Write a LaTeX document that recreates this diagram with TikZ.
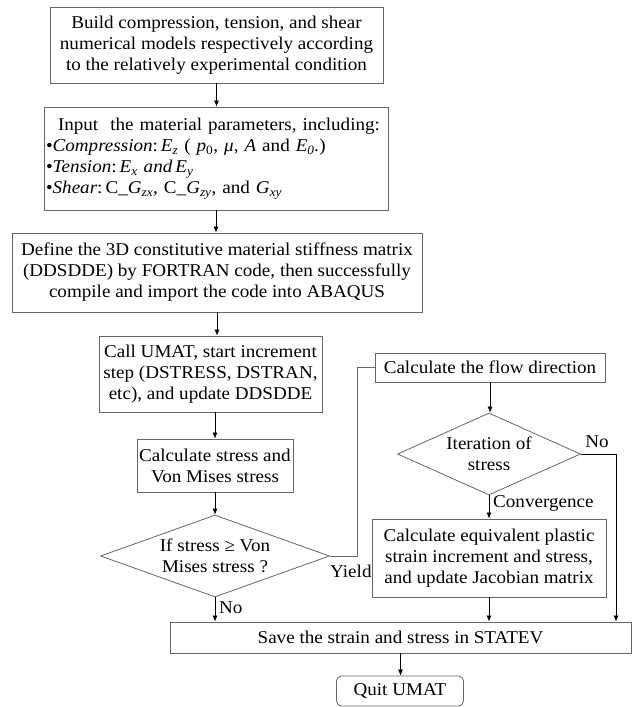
\documentclass[tikz,border=0pt]{standalone}
\usepackage{fontspec}
\setmainfont{Liberation Serif}[FakeStretch=1.06]
\usetikzlibrary{shapes.geometric,arrows.meta}
\tikzset{
  box/.style={draw=black!60, line width=0.8pt, fill=white, align=center, inner sep=0pt,
    font=\fontsize{18}{21}\selectfont},
  dia/.style={box, shape=diamond},
  lbl/.style={font=\fontsize{18}{21}\selectfont, inner sep=0pt},
  arr/.style={draw=black, line width=0.7pt, -{Latex[length=6pt,width=5pt]}},
  conn/.style={draw=black!60, line width=0.8pt}
}
\begin{document}
\begin{tikzpicture}[x=1pt,y=-1pt]
\useasboundingbox (0,0) rectangle (633,707);

\node[box, minimum width=333pt, minimum height=76pt] (b1) at (216.5,45)
  {Build compression, tension, and shear\\numerical models respectively according\\to the relatively experimental condition};

\node[box, minimum width=344pt, minimum height=103pt, text width=340pt, align=left] (b2) at (216,158.5)
  {\hspace*{12pt}Input~ the material parameters, including:\\
   •\textit{Compression}:\,\textit{E}\textsubscript{\textit{z}} ( \textit{p}\textsubscript{0}, \textit{μ}, \textit{A} and \textit{E}\textsubscript{\textit{0}}\textit{.})\\
   •\textit{Tension}:\,\textit{E}\textsubscript{\textit{x}} \textit{and}\,\textit{E}\textsubscript{\textit{y}}\\
   •\textit{Shear}:\,C\_\textit{G}\textsubscript{\textit{zx}}, C\_\textit{G}\textsubscript{\textit{zy}}, and \textit{G}\textsubscript{\textit{xy}}};

\node[box, minimum width=410pt, minimum height=79pt] (b3) at (217,272.5)
  {Define the 3D constitutive material stiffness matrix\\(DDSDDE) by FORTRAN code, then successfully\\compile and import the code into ABAQUS};

\node[box, minimum width=223pt, minimum height=76pt] (b4) at (210.5,374)
  {Call UMAT, start increment\\step (DSTRESS, DSTRAN,\\etc), and update DDSDDE};

\node[box, minimum width=156pt, minimum height=53pt] (b5) at (215,465.5)
  {Calculate stress and\\Von Mises stress};

\node[dia, aspect=2.79, minimum width=229pt, minimum height=82pt] (d1) at (215,556)
  {If stress ≥ Von\\Mises stress ?};

\node[box, minimum width=230pt, minimum height=29pt] (flow) at (490,367.5)
  {Calculate the flow direction};

\node[dia, aspect=2.23, minimum width=183pt, minimum height=82pt] (d2) at (489,454)
  {Iteration of\\stress};

\node[box, minimum width=234pt, minimum height=78pt] (eq) at (489,558)
  {Calculate equivalent plastic\\strain increment and stress,\\and update Jacobian matrix};

\node[box, minimum width=461pt, minimum height=31pt] (save) at (400.5,637.5)
  {Save the strain and stress in STATEV};

\node[box, rounded corners=5pt, minimum width=127pt, minimum height=30pt] (quit) at (400,691)
  {Quit UMAT};

% connectors
\draw[arr] (b1.south) -- (b1.south |- b2.north);
\draw[arr] (b2.south) -- (b2.south |- b3.north);
\draw[arr] (b3.south) -- (b3.south |- b4.north);
\draw[arr] (b5.north |- b4.south) -- (b5.north);
\draw[arr] (b5.south) -- (d1.north);
\draw[arr] (d1.south) -- (d1.south |- save.north);
\coordinate (yc) at (357,556);
\draw[conn] (d1.east) -- (yc) |- (flow.west);
\draw[arr] (flow.south) -- (flow.south |- d2.north);
\draw[arr] (d2.south) -- (eq.north);
\coordinate (nc) at (616,454);
\draw[arr] (d2.east) -- (nc) -- (nc |- save.north);
\draw[arr] (eq.south) -- (eq.south |- save.north);
\draw[arr] (save.south) -- (save.south |- quit.north);

% labels
\node[lbl, anchor=west] (lyield) at (330,571) {Yield};
\node[lbl, anchor=west] (lno1) at (219,608) {No};
\node[lbl, anchor=west] (lconv) at (493,503) {Convergence};
\node[lbl] (lno2) at (597,442) {No};
\end{tikzpicture}
\end{document}
